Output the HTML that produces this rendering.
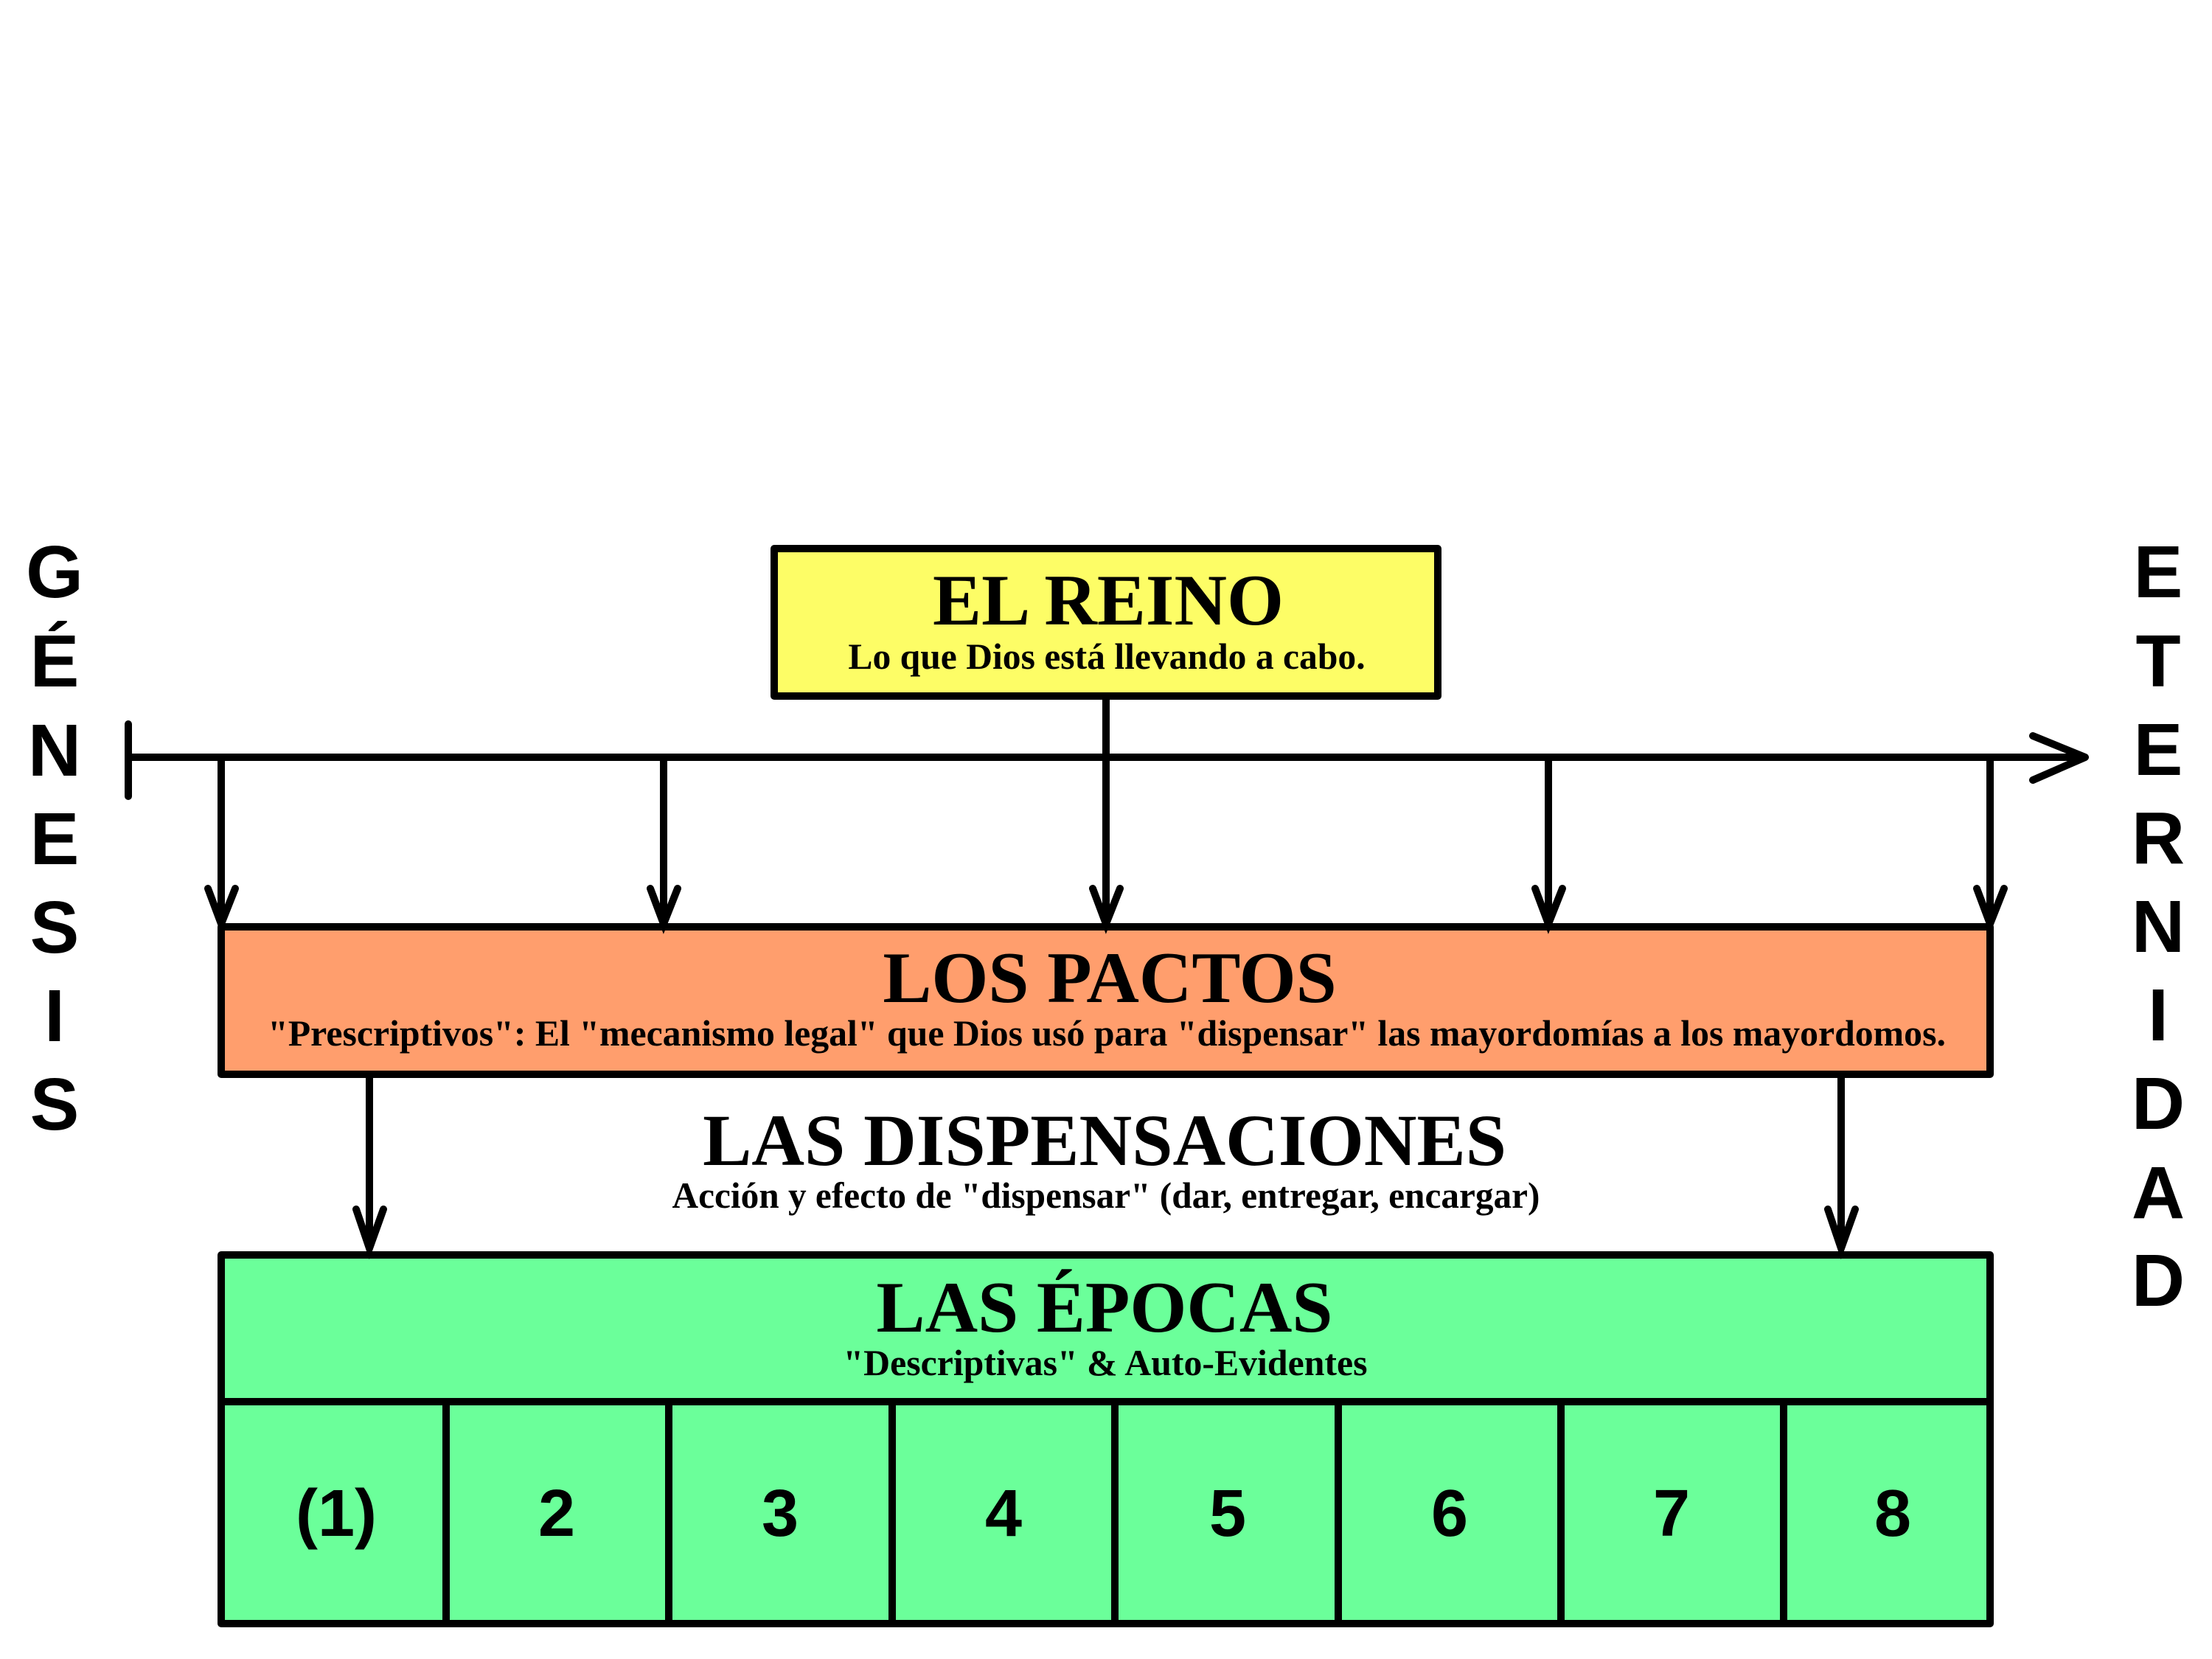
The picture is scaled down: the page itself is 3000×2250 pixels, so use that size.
<!DOCTYPE html>
<html>
<head>
<meta charset="utf-8">
<style>
  html, body { margin: 0; padding: 0; background: #ffffff; }
  body { width: 3000px; height: 2250px; overflow: hidden; }
  svg { display: block; }
  .serif { font-family: "Liberation Serif", "Times New Roman", serif; font-weight: bold; fill: #000; }
  .sans { font-family: "Liberation Sans", Arial, sans-serif; font-weight: bold; fill: #000; }
</style>
</head>
<body>
<svg width="3000" height="2250" viewBox="0 0 3000 2250" xmlns="http://www.w3.org/2000/svg">
  <rect x="0" y="0" width="3000" height="2250" fill="#ffffff"/>

  <!-- Boxes -->
  <rect x="1050" y="744" width="900" height="200" fill="#FDFD66" stroke="#000" stroke-width="10" stroke-linejoin="round"/>
  <rect x="300" y="1257" width="2399" height="200" fill="#FF9E6D" stroke="#000" stroke-width="10" stroke-linejoin="round"/>
  <rect x="300" y="1702" width="2399" height="500" fill="#6BFF9A" stroke="#000" stroke-width="10" stroke-linejoin="round"/>

  <!-- Epocas dividers -->
  <g stroke="#000" stroke-width="10">
    <line x1="300" y1="1901" x2="2699" y2="1901"/>
    <line x1="605" y1="1901" x2="605" y2="2202"/>
    <line x1="907" y1="1901" x2="907" y2="2202"/>
    <line x1="1210" y1="1901" x2="1210" y2="2202"/>
    <line x1="1512" y1="1901" x2="1512" y2="2202"/>
    <line x1="1815" y1="1901" x2="1815" y2="2202"/>
    <line x1="2117" y1="1901" x2="2117" y2="2202"/>
    <line x1="2419" y1="1901" x2="2419" y2="2202"/>
  </g>

  <!-- Timeline -->
  <g stroke="#000" stroke-width="10" fill="none" stroke-linecap="round" stroke-linejoin="round">
    <line x1="174" y1="1027" x2="2826" y2="1027" stroke-linecap="butt"/>
    <line x1="174" y1="982" x2="174" y2="1080"/>
    <polyline points="2757,998 2828,1027 2757,1058"/>
  </g>

  <!-- Arrows from timeline to Pactos -->
  <g stroke="#000" stroke-width="10" fill="none" stroke-linecap="round" stroke-linejoin="miter">
    <line x1="300" y1="1027" x2="300" y2="1250" stroke-linecap="butt"/>
    <polyline points="282,1205 300,1253 319,1205"/>
    <line x1="900" y1="1027" x2="900" y2="1250" stroke-linecap="butt"/>
    <polyline points="882,1205 900,1253 919,1205"/>
    <line x1="1500" y1="944" x2="1500" y2="1250" stroke-linecap="butt"/>
    <polyline points="1482,1205 1500,1253 1519,1205"/>
    <line x1="2100" y1="1027" x2="2100" y2="1250" stroke-linecap="butt"/>
    <polyline points="2082,1205 2100,1253 2119,1205"/>
    <line x1="2699" y1="1027" x2="2699" y2="1250" stroke-linecap="butt"/>
    <polyline points="2681,1205 2699,1253 2718,1205"/>

    <!-- Arrows from Pactos to Epocas -->
    <line x1="501" y1="1457" x2="501" y2="1690" stroke-linecap="butt"/>
    <polyline points="483,1640 501,1693 520,1640"/>
    <line x1="2497" y1="1457" x2="2497" y2="1690" stroke-linecap="butt"/>
    <polyline points="2479,1640 2497,1693 2516,1640"/>
  </g>

  <!-- Box text -->
  <text class="serif" x="1503" y="847" font-size="99" text-anchor="middle">EL REINO</text>
  <text class="serif" x="1501" y="907" font-size="49.6" text-anchor="middle">Lo que Dios está llevando a cabo.</text>

  <text class="serif" x="1505" y="1359" font-size="99" text-anchor="middle">LOS PACTOS</text>
  <text class="serif" x="1501" y="1418" font-size="49.8" text-anchor="middle">"Prescriptivos": El "mecanismo legal" que Dios usó para "dispensar" las mayordomías a los mayordomos.</text>

  <text class="serif" x="1498" y="1580" font-size="99.3" text-anchor="middle">LAS DISPENSACIONES</text>
  <text class="serif" x="1500" y="1638" font-size="49.3" text-anchor="middle">Acción y efecto de "dispensar" (dar, entregar, encargar)</text>

  <text class="serif" x="1498" y="1806" font-size="99" text-anchor="middle">LAS ÉPOCAS</text>
  <text class="serif" x="1499" y="1865" font-size="49.8" text-anchor="middle">"Descriptivas" &amp; Auto-Evidentes</text>

  <!-- Numbers -->
  <g class="sans" font-size="90" text-anchor="middle">
    <text x="456" y="2083">(1)</text>
    <text x="755" y="2083">2</text>
    <text x="1058" y="2083">3</text>
    <text x="1361" y="2083">4</text>
    <text x="1665" y="2083">5</text>
    <text x="1966" y="2083">6</text>
    <text x="2267" y="2083">7</text>
    <text x="2567" y="2083">8</text>
  </g>

  <!-- GÉNESIS -->
  <g class="sans" font-size="100" text-anchor="middle">
    <text x="74" y="810">G</text>
    <text x="74" y="931">É</text>
    <text x="74" y="1052">N</text>
    <text x="74" y="1172">E</text>
    <text x="74" y="1292">S</text>
    <text x="74" y="1412">I</text>
    <text x="74" y="1532">S</text>
  </g>

  <!-- ETERNIDAD -->
  <g class="sans" font-size="100" text-anchor="middle">
    <text x="2927" y="810">E</text>
    <text x="2927" y="931">T</text>
    <text x="2927" y="1051">E</text>
    <text x="2927" y="1171">R</text>
    <text x="2927" y="1291">N</text>
    <text x="2927" y="1411">I</text>
    <text x="2927" y="1531">D</text>
    <text x="2927" y="1652">A</text>
    <text x="2927" y="1771">D</text>
  </g>
</svg>
</body>
</html>
